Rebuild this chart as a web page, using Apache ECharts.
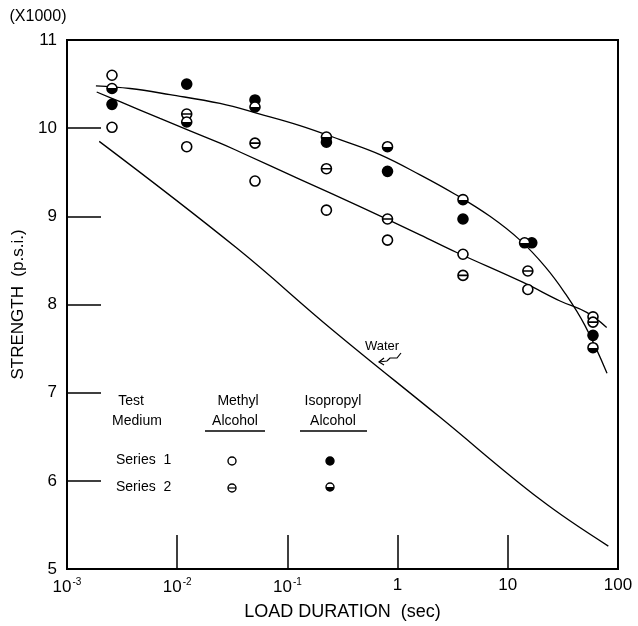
<!DOCTYPE html>
<html><head><meta charset="utf-8">
<script src="https://cdn.jsdelivr.net/npm/echarts@6/dist/echarts.min.js"></script>
<style>html,body{margin:0;padding:0;background:#fff}#c{width:638px;height:626px}</style>
</head><body><div id="c"></div>
<script>
// ---- axis ticks ----
const xTickValues = [0.001, 0.01, 0.1, 1, 10, 100];
const xTickLabels = ['10{s|-3}', '10{s|-2}', '10{s|-1}', '1', '10', '100'];
const yTickValues = [5, 6, 7, 8, 9, 10, 11];
const yTickLabels = ['5', '6', '7', '8', '9', '10', '11'];

// ---- data points [load duration (sec), strength (x1000 psi)] ----
const methylSeries1 = [[0.00256, 10.60], [0.00256, 10.01], [0.0122, 9.79], [0.0508, 9.40], [0.226, 9.07], [0.81, 8.73], [3.92, 8.57], [15.2, 8.17], [59.3, 7.86]];
const methylSeries2 = [[0.0122, 10.16], [0.0508, 9.83], [0.226, 9.54], [0.81, 8.97], [3.92, 8.33], [15.2, 8.38], [59.3, 7.80]];
const isoSeries1 = [[0.00256, 10.27], [0.0122, 10.50], [0.0508, 10.32], [0.226, 9.84], [0.81, 9.51], [3.92, 8.97], [16.5, 8.70], [59.3, 7.65]];
const isoSeries2 = [[0.00256, 10.45], [0.0122, 10.07], [0.0508, 10.24], [0.226, 9.90], [0.81, 9.79], [3.92, 9.19], [14.2, 8.70], [59.3, 7.51]];

// ---- fitted curves ----
const isoCurve = [[0.00183, 10.48], [0.00373, 10.45], [0.0086, 10.38], [0.0245, 10.28], [0.0564, 10.16], [0.130, 10.03], [0.300, 9.87], [0.692, 9.70], [1.60, 9.47], [3.32, 9.25], [6.89, 9.00], [12.9, 8.73], [21.8, 8.43], [33.0, 8.13], [50.2, 7.76], [79.5, 7.22]];
const methylCurve = [[0.00186, 10.41], [0.00303, 10.30], [0.00698, 10.11], [0.0245, 9.83], [0.0371, 9.73], [0.130, 9.42], [0.456, 9.11], [1.60, 8.79], [3.44, 8.59], [13.8, 8.25], [29.8, 8.04], [52.0, 7.91], [78.9, 7.74]];
const waterCurve = [[0.00196, 9.85], [0.0347, 8.64], [0.252, 7.72], [2.43, 6.72], [19.6, 5.79], [81.7, 5.26]];

const FONT = '"Liberation Sans", Arial, sans-serif';
const ringPath = 'path://M0,10 A10,10 0 1,1 20,10 A10,10 0 1,1 0,10 Z M0,10 L20,10';
const halfFill = {type: 'linear', x: 0, y: 0, x2: 0, y2: 1,
  colorStops: [{offset: 0, color: '#fff'}, {offset: 0.5, color: '#fff'}, {offset: 0.5, color: '#000'}, {offset: 1, color: '#000'}]};

function lineSeries(name, data) {
  return {name, type: 'line', data, showSymbol: false, smooth: 0.4, z: 2,
    lineStyle: {color: '#000', width: 1.3}, silent: true};
}
function scatterSeries(name, data, symbol, fill) {
  return {name, type: 'scatter', data, symbol, symbolSize: 10, z: 5,
    itemStyle: {color: fill, borderColor: '#000', borderWidth: 1.6, opacity: 1}};
}

const chart = echarts.init(document.getElementById('c'), null, {renderer: 'canvas'});

// legend / annotation graphics
const g = [];
function txt(x, y, s, align, size) {
  g.push({type: 'text', x, y, style: {text: s, fill: '#000', font: (size || 14) + 'px ' + FONT, textAlign: align || 'center', textVerticalAlign: 'middle'}});
}
txt(38, 17, '(X1000)', 'center', 16);
txt(131, 401, 'Test'); txt(137, 421, 'Medium');
txt(238, 401, 'Methyl'); txt(235, 421, 'Alcohol');
txt(333, 401, 'Isopropyl'); txt(333, 421, 'Alcohol');
g.push({type: 'line', shape: {x1: 205, y1: 431, x2: 265, y2: 431}, style: {stroke: '#000', lineWidth: 1.3}});
g.push({type: 'line', shape: {x1: 300, y1: 431, x2: 367, y2: 431}, style: {stroke: '#000', lineWidth: 1.3}});
txt(116, 460, 'Series  1', 'left'); txt(116, 487, 'Series  2', 'left');
g.push({type: 'circle', shape: {cx: 232, cy: 461, r: 4}, style: {fill: '#fff', stroke: '#000', lineWidth: 1.4}});
g.push({type: 'circle', shape: {cx: 330, cy: 461, r: 4}, style: {fill: '#000', stroke: '#000', lineWidth: 1.4}});
g.push({type: 'circle', shape: {cx: 232, cy: 488, r: 4}, style: {fill: '#fff', stroke: '#000', lineWidth: 1.4}});
g.push({type: 'line', shape: {x1: 228, y1: 488, x2: 236, y2: 488}, style: {stroke: '#000', lineWidth: 1.2}});
g.push({type: 'circle', shape: {cx: 330, cy: 487, r: 4}, style: {fill: halfFill, stroke: '#000', lineWidth: 1.4}});
// Water annotation
txt(382, 346, 'Water', 'center', 13);
g.push({type: 'polyline', shape: {points: [[401, 353], [397, 358], [390, 358], [387, 361], [379, 362]]}, style: {stroke: '#000', lineWidth: 1.2, fill: null}});
g.push({type: 'polyline', shape: {points: [[384, 358], [379, 362], [384, 365]]}, style: {stroke: '#000', lineWidth: 1.2, fill: null}});

chart.setOption({
  animation: false,
  backgroundColor: '#fff',
  grid: {left: 67, right: 20, top: 40, bottom: 56, show: true, borderColor: '#000', borderWidth: 2},
  xAxis: {
    type: 'log', logBase: 10, min: xTickValues[0], max: xTickValues[xTickValues.length - 1],
    name: 'LOAD DURATION  (sec)', nameLocation: 'middle', nameGap: 34,
    nameTextStyle: {fontFamily: FONT, fontSize: 18, color: '#000'},
    axisLine: {lineStyle: {color: '#000', width: 2}},
    axisTick: {inside: true, length: 34, lineStyle: {color: '#000', width: 1.5}},
    splitLine: {show: false}, minorTick: {show: false},
    axisLabel: {
      margin: 8, color: '#000', fontFamily: FONT, fontSize: 17,
      formatter: v => { const i = xTickValues.findIndex(t => Math.abs(Math.log10(t) - Math.log10(v)) < 1e-6); return i >= 0 ? xTickLabels[i] : ''; },
      rich: {s: {fontSize: 10, verticalAlign: 'top', padding: [0, 0, 10, 1], fontFamily: FONT, color: '#000'}}
    }
  },
  yAxis: {
    type: 'value', min: yTickValues[0], max: yTickValues[yTickValues.length - 1], interval: 1,
    name: 'STRENGTH  (p.s.i.)', nameLocation: 'middle', nameGap: 38, nameRotate: 90,
    nameTextStyle: {fontFamily: FONT, fontSize: 17, color: '#000'},
    axisLine: {lineStyle: {color: '#000', width: 2}},
    axisTick: {inside: true, length: 34, lineStyle: {color: '#000', width: 1.5}},
    splitLine: {show: false},
    axisLabel: {margin: 10, color: '#000', fontFamily: FONT, fontSize: 17,
      formatter: v => { const i = yTickValues.indexOf(v); return i >= 0 ? yTickLabels[i] : ''; }}
  },
  series: [
    lineSeries('Isopropyl fit', isoCurve),
    lineSeries('Methyl fit', methylCurve),
    lineSeries('Water', waterCurve),
    scatterSeries('Methyl Alcohol Series 1', methylSeries1, 'circle', '#fff'),
    scatterSeries('Methyl Alcohol Series 2', methylSeries2, ringPath, '#fff'),
    scatterSeries('Isopropyl Alcohol Series 1', isoSeries1, 'circle', '#000'),
    scatterSeries('Isopropyl Alcohol Series 2', isoSeries2, 'circle', halfFill)
  ],
  graphic: g
});
</script></body></html>
